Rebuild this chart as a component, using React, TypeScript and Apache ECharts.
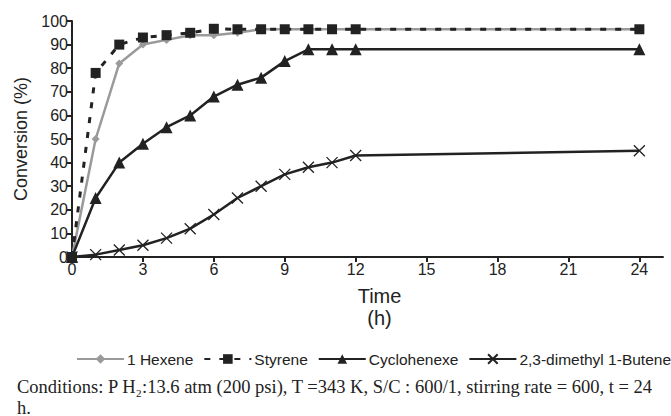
import React, { useEffect, useRef } from "react";
import * as echarts from "echarts";

const hours = [0, 1, 2, 3, 4, 5, 6, 7, 8, 9, 10, 11, 12, 24];
const hexene = [0, 50, 82, 90, 92, 94, 94, 95, 96.5, 96.5, 96.5, 96.5, 96.5, 96.5];
const styrene = [0, 78, 90, 93, 94, 95, 96.7, 96.5, 96.5, 96.5, 96.5, 96.5, 96.5, 96.5];
const cyclohexene = [0, 25, 40, 48, 55, 60, 68, 73, 76, 83, 88, 88, 88, 88];
const dimethylButene = [0, 1, 3, 5, 8, 12, 18, 25, 30, 35, 38, 40, 43, 45];
const xTicks = [0, 3, 6, 9, 12, 15, 18, 21, 24];
const seriesNames = ["1 Hexene", "Styrene", "Cyclohenexe", "2,3-dimethyl 1-Butene"];
const conditionsText =
  "Conditions: P H₂:13.6 atm (200 psi), T =343 K, S/C : 600/1, stirring rate = 600, t = 24\nh.";

const pair = (ys: number[]) => hours.map((h, i) => [h, ys[i]]);

export default function App() {
  const ref = useRef<HTMLDivElement>(null);
  useEffect(() => {
    const chart = echarts.init(ref.current!, null, { renderer: "svg" });
    const dark = "#222222";
    const gray = "#9a9a9a";
    const font = "Arial";
    chart.setOption({
      animation: false,
      grid: { left: 72, right: 8, top: 21, bottom: 159 },
      legend: {
        data: seriesNames,
        left: 76,
        top: 351,
        width: 640,
        padding: 0,
        itemWidth: 47,
        itemHeight: 12,
        itemGap: 10,
        textStyle: { fontFamily: font, fontSize: 15.5, color: dark, padding: [0, 0, 0, -2] },
      },
      xAxis: {
        type: "value",
        min: 0,
        max: 25,
        interval: 3,
        name: "Time\n(h)",
        nameLocation: "middle",
        nameGap: 28,
        nameTextStyle: {
          fontFamily: font,
          fontSize: 20,
          lineHeight: 22,
          color: dark,
          verticalAlign: "top",
          padding: [0, 0, 0, 24],
        },
        axisLine: { lineStyle: { color: dark, width: 2 } },
        axisTick: { customValues: xTicks, length: 5, lineStyle: { color: dark, width: 2 } },
        axisLabel: { customValues: xTicks, fontFamily: font, fontSize: 16, color: dark, margin: 4 },
        splitLine: { show: false },
      },
      yAxis: {
        type: "value",
        min: 0,
        max: 100,
        interval: 10,
        name: "Conversion (%)",
        nameLocation: "middle",
        nameRotate: 90,
        nameGap: 40,
        nameTextStyle: { fontFamily: font, fontSize: 18, color: dark },
        axisLine: { show: true, lineStyle: { color: dark, width: 2 } },
        axisTick: { show: true, length: 5, lineStyle: { color: dark, width: 2 } },
        axisLabel: { fontFamily: font, fontSize: 16, color: dark, margin: 4 },
        splitLine: { show: false },
      },
      graphic: [
        {
          type: "text",
          x: 17,
          y: 376,
          style: {
            text: conditionsText,
            fontFamily: "Times New Roman",
            fontSize: 18.5,
            lineHeight: 21,
            fill: dark,
          },
        },
      ],
      series: [
        {
          name: seriesNames[0],
          type: "line",
          data: pair(hexene),
          symbol: "diamond",
          symbolSize: 8,
          itemStyle: { color: gray },
          lineStyle: { color: gray, width: 2.5 },
          z: 2,
        },
        {
          name: seriesNames[1],
          type: "line",
          data: pair(styrene),
          symbol: "rect",
          symbolSize: 10,
          itemStyle: { color: dark },
          lineStyle: { color: dark, width: 3, type: [6, 9] },
          z: 3,
        },
        {
          name: seriesNames[2],
          type: "line",
          data: pair(cyclohexene),
          symbol: "triangle",
          symbolSize: 12,
          itemStyle: { color: dark },
          lineStyle: { color: dark, width: 2.5 },
          z: 3,
        },
        {
          name: seriesNames[3],
          type: "line",
          data: pair(dimethylButene),
          symbol: "path://M0,0 L10,10 M10,0 L0,10",
          symbolSize: 11,
          symbolKeepAspect: true,
          itemStyle: { color: "none", borderColor: dark, borderWidth: 1.3 },
          lineStyle: { color: dark, width: 2.5 },
          z: 3,
        },
      ],
    });
    return () => chart.dispose();
  }, []);
  return (
    <div
      ref={ref}
      style={{ position: "absolute", left: 0, top: 0, width: 671, height: 416, background: "#fff" }}
    />
  );
}
